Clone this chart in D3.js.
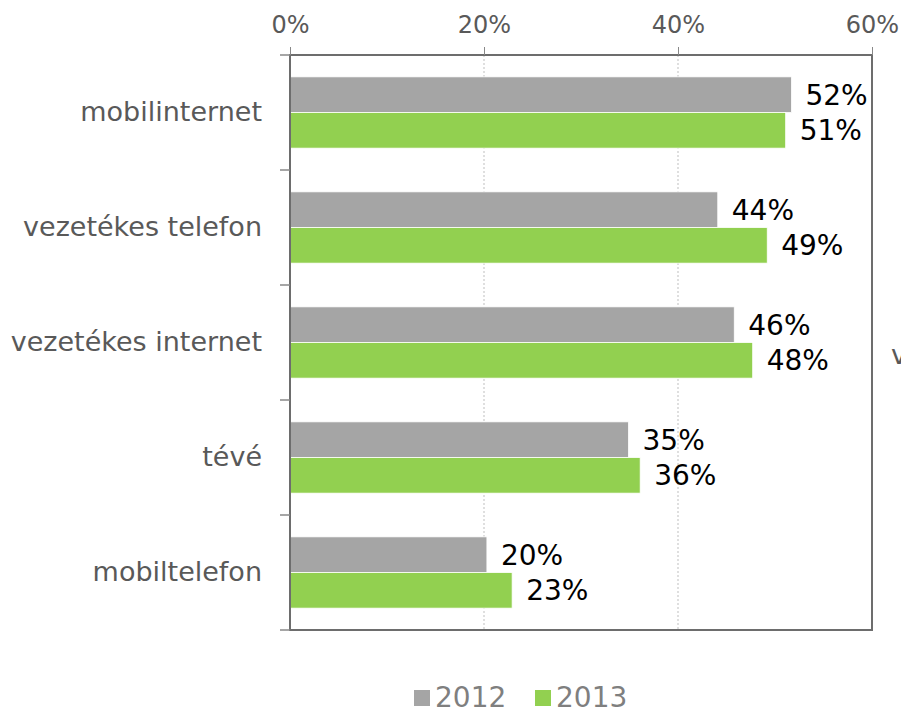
<!DOCTYPE html>
<html><head><meta charset="utf-8">
<script src="https://cdn.jsdelivr.net/npm/d3@7"></script>
<style>body{margin:0;background:#fff}svg{display:block}</style>
</head><body><svg id="c" width="901" height="711"></svg>
<script>
const categories = ["mobilinternet","vezetékes telefon","vezetékes internet","tévé","mobiltelefon"];
const series2012 = [51.7, 44.1, 45.8, 34.9, 20.3];
const series2013 = [51.1, 49.2, 47.7, 36.1, 22.9];
const labels2012 = ["52%","44%","46%","35%","20%"];
const labels2013 = ["51%","49%","48%","36%","23%"];
const seriesNames = ["2012","2013"];
const tickValues = [0,20,40,60];

const colors = ["#a5a5a5","#92d050"];
const font = "'DejaVu Sans', Verdana, sans-serif";
const svg = d3.select("#c");
const L=290, R=872, T=55, B=630;
const x = d3.scaleLinear().domain([0,60]).range([L,R]);
const y = d3.scaleBand().domain(categories).range([T,B]).paddingInner(0.38).paddingOuter(0.19);
const y1 = d3.scaleBand().domain(seriesNames).range([0,y.bandwidth()]);

// gridlines
svg.append("g").selectAll("line").data([20,40]).join("line")
  .attr("x1",d=>x(d)).attr("x2",d=>x(d)).attr("y1",T).attr("y2",B)
  .attr("stroke","#bfbfbf").attr("stroke-width",1).attr("stroke-dasharray","2,2");

const data = categories.map((c,i)=>({c, vals:[series2012[i],series2013[i]], labs:[labels2012[i],labels2013[i]]}));
const g = svg.append("g").selectAll("g").data(data).join("g").attr("transform",d=>`translate(0,${y(d.c)})`);
g.selectAll("rect").data(d=>d.vals.map((v,k)=>({v,k}))).join("rect")
  .attr("x",x(0)).attr("y",d=>y1(seriesNames[d.k])).attr("width",d=>x(d.v)-x(0)).attr("height",y1.bandwidth())
  .attr("fill",d=>colors[d.k]).attr("stroke","#fff").attr("stroke-width",0.8);
g.selectAll("text").data(d=>d.vals.map((v,k)=>({v,k,l:d.labs[k]}))).join("text")
  .attr("x",d=>x(d.v)+14).attr("y",d=>y1(seriesNames[d.k])+y1.bandwidth()/2)
  .attr("dy","0.36em").attr("font-family",font).attr("font-size",28).attr("fill","#000").text(d=>d.l);

// plot border
svg.append("rect").attr("x",L).attr("y",T).attr("width",R-L).attr("height",B-T)
  .attr("fill","none").attr("stroke","#6d6d6d").attr("stroke-width",2);

// top axis
const xa = svg.append("g").attr("transform",`translate(0,${T})`)
  .call(d3.axisTop(x).tickValues(tickValues).tickFormat(d=>d+"%").tickSize(8).tickPadding(14));
xa.select(".domain").remove();
xa.selectAll("line").attr("stroke","#888");
xa.selectAll("text").attr("font-family",font).attr("font-size",24).attr("fill","#595959");

// left axis
const ya = svg.append("g").attr("transform",`translate(${L},0)`)
  .call(d3.axisLeft(y).tickSize(0).tickPadding(28));
ya.select(".domain").remove();
ya.selectAll("text").attr("font-family",font).attr("font-size",27).attr("fill","#595959");
// category boundary ticks
const bounds = d3.range(categories.length+1).map(i=>T+i*(B-T)/categories.length);
svg.append("g").selectAll("line").data(bounds).join("line")
  .attr("x1",L-10).attr("x2",L).attr("y1",d=>d).attr("y2",d=>d).attr("stroke","#888").attr("stroke-width",1.5);

// partially visible text at the right edge
svg.append("text").attr("x",891).attr("y",364).attr("font-family",font).attr("font-size",27).attr("fill","#595959").text("v");

// legend
const leg = svg.append("g");
const lx=[414,535];
seriesNames.forEach((s,i)=>{
  leg.append("rect").attr("x",lx[i]).attr("y",690).attr("width",16).attr("height",16).attr("fill",colors[i]);
  leg.append("text").attr("x",lx[i]+21).attr("y",697).attr("dy","0.36em").attr("font-family",font)
    .attr("font-size",28).attr("fill","#7f7f7f").text(s);
});
</script></body></html>
